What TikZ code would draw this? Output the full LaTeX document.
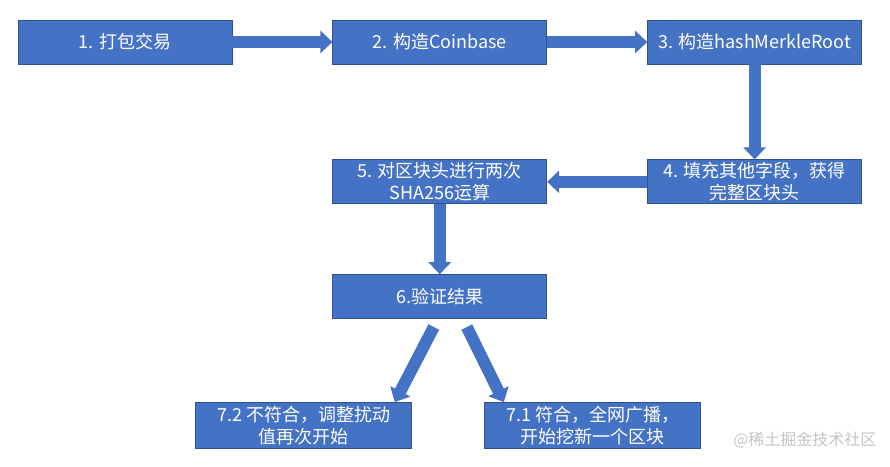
\documentclass[tikz,border=0pt]{standalone}
\usepackage{fontspec}
\newfontfamily\cjk{Noto Sans CJK SC}
\usetikzlibrary{arrows.meta,positioning}
\definecolor{office}{HTML}{4472C4}
\definecolor{officeedge}{HTML}{2F528F}
\definecolor{wmgray}{HTML}{C4C4C4}
\tikzset{
  node_box/.style={draw=officeedge,fill=office,line width=0.8pt,
    minimum width=214pt,minimum height=44pt,inner sep=2pt,
    font=\cjk\fontsize{18pt}{22pt}\selectfont,text=white,align=center},
  arr/.style={-{Triangle[length=12pt,width=22pt]},draw=office,line width=12pt},
}

\begin{document}
\begin{tikzpicture}[x=1pt,y=-1pt,node distance=100pt]
    \useasboundingbox (0,0) rectangle (890,466);
    \node[node_box] (pack) at (125,42) {1. 打包交易};
    \node[node_box,right=of pack] (coinbase) {2. 构造Coinbase};
    \node[node_box,right=of coinbase] (merkle) {3. 构造hashMerkleRoot};
    \node[node_box,below=95pt of merkle] (header) {4. 填充其他字段，获得\\完整区块头};
    \node[node_box,left=of header] (sha) {5. 对区块头进行两次\\SHA256运算};
    \node[node_box,below=70pt of sha] (check) {6.验证结果};
    \node[node_box,minimum width=216pt,minimum height=46pt,below=83pt of check,xshift=-136pt] (retry) {7.2 不符合，调整扰动\\值再次开始};
    \node[node_box,minimum width=216pt,minimum height=46pt,below=83pt of check,xshift=153pt] (broadcast) {7.1 符合，全网广播，\\开始挖新一个区块};
    \node[font=\cjk\fontsize{16pt}{16pt}\selectfont,text=wmgray,anchor=east] (watermark) at (880,440) {@稀土掘金技术社区};
    \draw[arr](pack)--(coinbase);\draw[arr](coinbase)--(merkle);\draw[arr](merkle)--(header);\draw[arr](header)--(sha);\draw[arr](sha)--(check);
    \draw[arr]([xshift=-6pt,yshift=-8pt]check.south)--([xshift=91pt]retry.north);
    \draw[arr]([xshift=27pt,yshift=-8pt]check.south)--([xshift=-89pt]broadcast.north);
  \end{tikzpicture}
\end{document}
